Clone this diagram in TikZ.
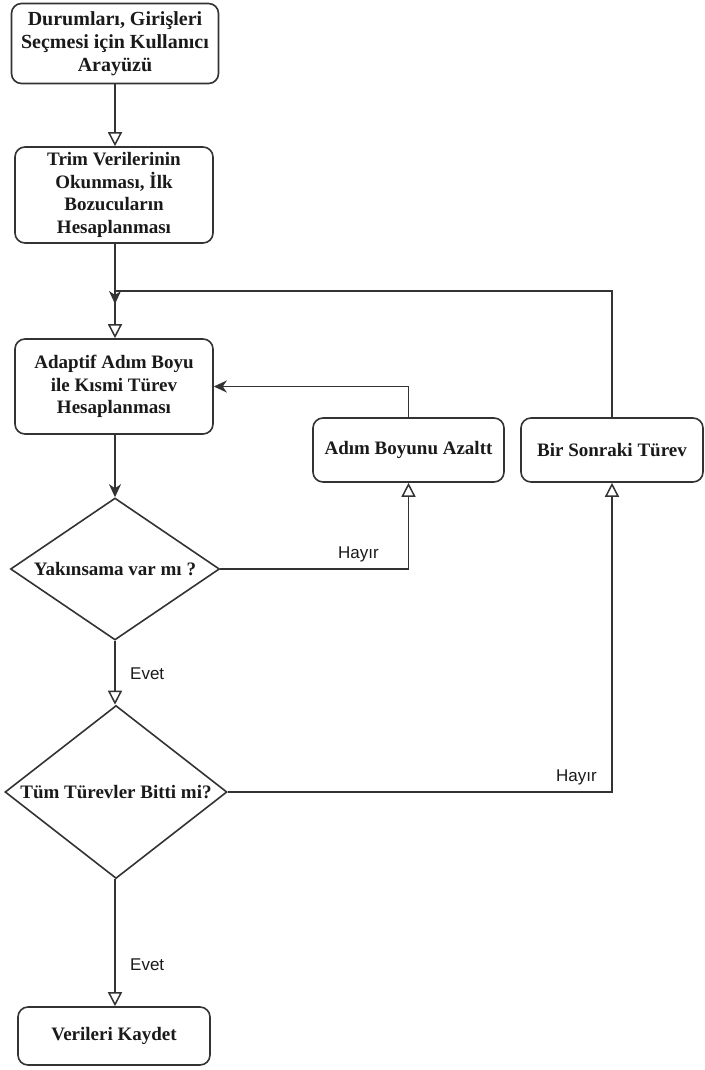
\documentclass[tikz,border=0pt]{standalone}
\usepackage{fontspec}
\setmainfont{Liberation Serif}
\setsansfont{Liberation Sans}
\usetikzlibrary{arrows.meta,shapes.geometric}
\definecolor{lc}{HTML}{333333}
\definecolor{tc}{HTML}{1a1a1a}
\tikzset{
  box/.style={draw=lc, line width=1.6pt, rounded corners=10pt, fill=white, align=center,
    text=tc, font=\bfseries\fontsize{19}{22.5}\selectfont, inner sep=0pt},
  dia/.style={draw=lc, line width=1.6pt, diamond, fill=white, inner sep=0pt, shape aspect=1.4},
  diatext/.style={text=tc, font=\bfseries\fontsize{19}{22.5}\selectfont, inner sep=0pt},
  conn/.style={draw=lc, line width=1.6pt},
  openarr/.style={-{Triangle[open, length=14pt, width=14pt, line width=1.5pt]}},
  fillarr/.style={-{Stealth[length=13pt, width=12pt, inset=4pt]}},
  lbl/.style={font=\sffamily\fontsize{17}{20}\selectfont, text=tc, inner sep=0pt}
}
\begin{document}
\begin{tikzpicture}[x=1pt,y=-1pt]
\useasboundingbox (0,0) rectangle (704,1070);
\node[box, minimum width=207pt, minimum height=80pt, font=\bfseries\fontsize{20}{23}\selectfont] (b1) at (115,43.5) {Durumları, Girişleri\\Seçmesi için Kullanıcı\\Arayüzü};
\node[box, minimum width=198pt, minimum height=96pt] (b2) at (114,195) {Trim Verilerinin\\Okunması, İlk\\Bozucuların\\Hesaplanması};
\node[box, minimum width=198pt, minimum height=95pt] (b3) at (114,386.5) {Adaptif Adım Boyu\\ile Kısmi Türev\\Hesaplanması};
\node[box, minimum width=191pt, minimum height=64pt] (az) at (408.5,450) {Adım Boyunu Azaltt};
\node[box, minimum width=182pt, minimum height=64pt] (bs) at (612,450) {Bir Sonraki Türev};
\node[dia, minimum width=209pt, minimum height=142pt] (d1) at (115,569) {};
\node[diatext] (d1t) at (d1.center) {Yakınsama var mı ?};
\node[dia, minimum width=222pt, minimum height=173pt] (d2) at (116,792) {};
\node[diatext] (d2t) at (d2.center) {Tüm Türevler Bitti mi?};
\node[box, minimum width=192pt, minimum height=58pt] (b4) at (114,1036) {Verileri Kaydet};

\coordinate (j) at (115,304);
\coordinate (top) at (115,291);
\draw[conn, openarr] (b1.south -| 115,0) -- (b2.north -| 115,0);
\draw[conn, fillarr] (b2.south -| 115,0) -- (j);
\draw[conn, openarr] (bs.north) |- (top) -- (b3.north -| 115,0);
\draw[conn, fillarr] (az.north) |- (b3.east);
\draw[conn, fillarr] (b3.south -| 115,0) -- (d1.north);
\draw[conn, openarr] (d1.east) -| (az.south);
\draw[conn, openarr] (d1.south) -- (d2.north -| 115,0);
\draw[conn, openarr] (d2.east) -| (bs.south);
\draw[conn, openarr] (d2.south -| 115,0) -- (b4.north -| 115,0);

\node[lbl, anchor=base west] (h1) at (338,558) {Hayır};
\node[lbl, anchor=base west] (e1) at (130,679) {Evet};
\node[lbl, anchor=base west] (h2) at (556,781) {Hayır};
\node[lbl, anchor=base west] (e2) at (130,970) {Evet};
\end{tikzpicture}
\end{document}
